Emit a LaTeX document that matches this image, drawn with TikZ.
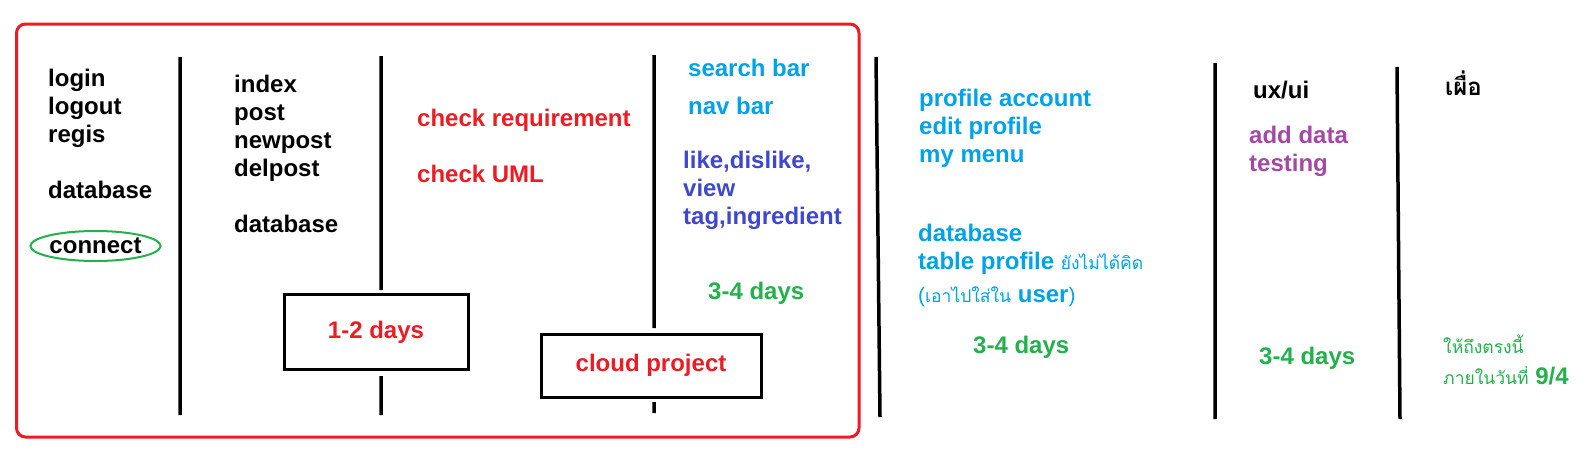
\documentclass[tikz,border=0pt]{standalone}
\usepackage{fontspec}
\setmainfont{Liberation Sans}
\newfontfamily\thaifont[Script=Thai]{Loma}
\usetikzlibrary{shapes.geometric, positioning}

\definecolor{paintred}{HTML}{ED1C24}
\definecolor{paintblue}{HTML}{00A2E8}
\definecolor{paintindigo}{HTML}{3F48CC}
\definecolor{paintgreen}{HTML}{22B14C}
\definecolor{paintpurple}{HTML}{A349A4}

\newcommand{\thsm}[1]{{\thaifont\mdseries\fontsize{17.5}{20}\selectfont #1}}
\newcommand{\thinparen}[1]{{\mdseries\fontsize{21}{24}\selectfont #1}}

\tikzset{
	txt/.style={font=\fontsize{24}{28}\selectfont\bfseries, inner sep=0pt, anchor=base west, align=left},
	bar/.style={line width=3.5pt},
	daybox/.style={draw, line width=3pt, inner sep=0pt, font=\fontsize{24}{28}\selectfont\bfseries, text=paintred}
}

\begin{document}
\begin{tikzpicture}[x=1pt, y=-1pt]
				\useasboundingbox (0,0) rectangle (1584,472);
				\draw[paintred, line width=3pt, rounded corners=9pt] (16.5,24) rectangle (859,437);
				\node[txt] (login) at (48,198) {login\\logout\\regis\\[28pt]database};
				\node[txt, ellipse, draw=paintgreen, line width=2pt, minimum width=127pt, minimum height=30pt, anchor=center] (connect) at (95.5,246) {connect};
				\node[txt] (index) at (234,232) {index\\post\\newpost\\delpost\\[28pt]database};
				\node[txt, text=paintred] (check) at (417,182) {check requirement\\[28pt]check UML};
				\node[txt, text=paintblue] (search) at (688,114) {search bar\\[10pt]nav bar};
				\node[txt, text=paintindigo] (like) at (683,224) {like,dislike,\\view\\tag,ingredient};
				\node[txt, text=paintgreen] (daysa) at (708,299) {3-4 days};
				\node[daybox, minimum width=184pt, minimum height=75pt] (onetwo) at (376,332) {1-2 days};
				\node[daybox, minimum width=220pt, minimum height=63pt] (cloud) at (651,365.5) {cloud project};
				\node[txt, text=paintblue] (profile) at (919,162) {profile account\\edit profile\\my menu};
				\node[txt, text=paintblue] (table) at (918,302) {database\\table profile \thsm{ยังไม่ได้คิด}\\[5pt]\thinparen{(}\thsm{เอาไปใส่ใน} user\thinparen{)}};
				\node[txt, text=paintgreen] (daysb) at (973,353) {3-4 days};
				\node[txt] (uxui) at (1253,98) {ux/ui};
				\node[txt, text=paintpurple] (adddata) at (1249,171) {add data\\testing};
				\node[txt, text=paintgreen] (daysc) at (1259,364) {3-4 days};
				\node[txt] (spare) at (1445,95) {\thaifont เผื่อ};
				\node[txt, text=paintgreen] (until) at (1443,384) {\thsm{ให้ถึงตรงนี้}\\[3pt]\thsm{ภายในวันที่} 9/4};
				\coordinate (l1a) at (180,57);
				\coordinate (l1b) at (180,415);
				\coordinate (l2a) at (381,56);
				\coordinate (l2b) at (381,290);
				\coordinate (l2c) at (381,376);
				\coordinate (l2d) at (381,415);
				\coordinate (l3a) at (654,55);
				\coordinate (l3b) at (654,328);
				\coordinate (l3c) at (654,402);
				\coordinate (l3d) at (654,413);
				\coordinate (l4a) at (876,57);
				\coordinate (l4b) at (880,417);
				\coordinate (l5a) at (1215,63);
				\coordinate (l5b) at (1215,419);
				\coordinate (l6a) at (1397,67);
				\coordinate (l6b) at (1400,419);
				\draw[bar] (l1a) -- (l1b)
					(l2a) -- (l2b)
					(l2c) -- (l2d)
					(l3a) -- (l3b)
					(l3c) -- (l3d)
					(l4a) -- (l4b)
					(l5a) -- (l5b)
					(l6a) -- (l6b);
			\end{tikzpicture}
\end{document}
